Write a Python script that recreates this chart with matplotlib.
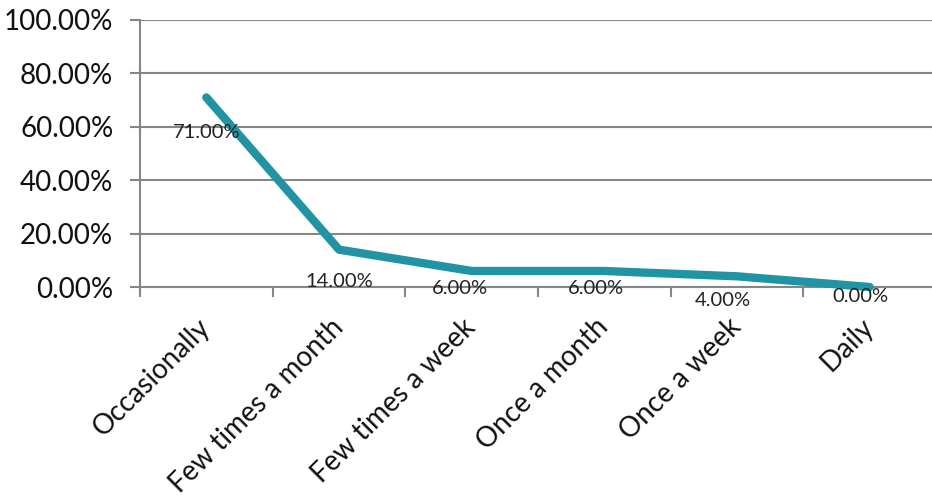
import matplotlib.pyplot as plt
from matplotlib.ticker import FuncFormatter, FixedLocator

# --- Dados ---
categorias = ["Occasionally", "Few times a month", "Few times a week",
              "Once a month", "Once a week", "Daily"]
percentuais = [71.0, 14.0, 6.0, 6.0, 4.0, 0.0]

# deslocamento (px) de cada rótulo em relação ao ponto
desloc_rotulos = [(0, -35), (0, -32), (-12, -18), (-8, -18), (-14, -24), (-9, -10)]

plt.rcParams["font.family"] = ["Lato", "DejaVu Sans"]
cinza = "#868686"
cor_linha = "#2094A3"

fig = plt.figure(figsize=(9.32, 5.04), dpi=100)
ax = fig.add_axes([140 / 932, 217 / 504, 796 / 932, 267 / 504])

x = list(range(len(categorias)))
ax.plot(x, percentuais, color=cor_linha, lw=6, solid_capstyle="round",
        solid_joinstyle="round", zorder=3, clip_on=False)

for xi, v, (dx, dy) in zip(x, percentuais, desloc_rotulos):
    ax.annotate(f"{v:.2f}%", (xi, v), xytext=(dx, dy), textcoords="offset pixels",
                ha="center", va="center", fontsize=14.5, color="#222222", zorder=4)

ax.set_xlim(-0.5, 5.5)
ax.set_ylim(0, 100)
ax.set_yticks(range(0, 101, 20))
ax.yaxis.set_major_formatter(FuncFormatter(lambda v, p: f"{v:.2f}%"))
ax.grid(axis="y", color=cinza, lw=1.5)
ax.set_axisbelow(True)

ax.set_xticks(x)
ax.set_xticklabels(categorias, rotation=45, ha="right", va="center",
                   rotation_mode="anchor", fontsize=20, color="#111111")
ax.xaxis.set_minor_locator(FixedLocator([i - 0.5 for i in range(len(categorias) + 1)]))
ax.tick_params(axis="x", which="major", length=0, pad=26)
ax.tick_params(axis="x", which="minor", length=7.2, width=1.5, color=cinza)
ax.tick_params(axis="y", length=7.2, width=1.5, color=cinza, labelsize=20,
               labelcolor="#111111", pad=12)

for lado in ["top", "right"]:
    ax.spines[lado].set_visible(False)
for lado in ["left", "bottom"]:
    ax.spines[lado].set_color(cinza)
    ax.spines[lado].set_linewidth(1.5)

fig.savefig("out.png", dpi=100)
